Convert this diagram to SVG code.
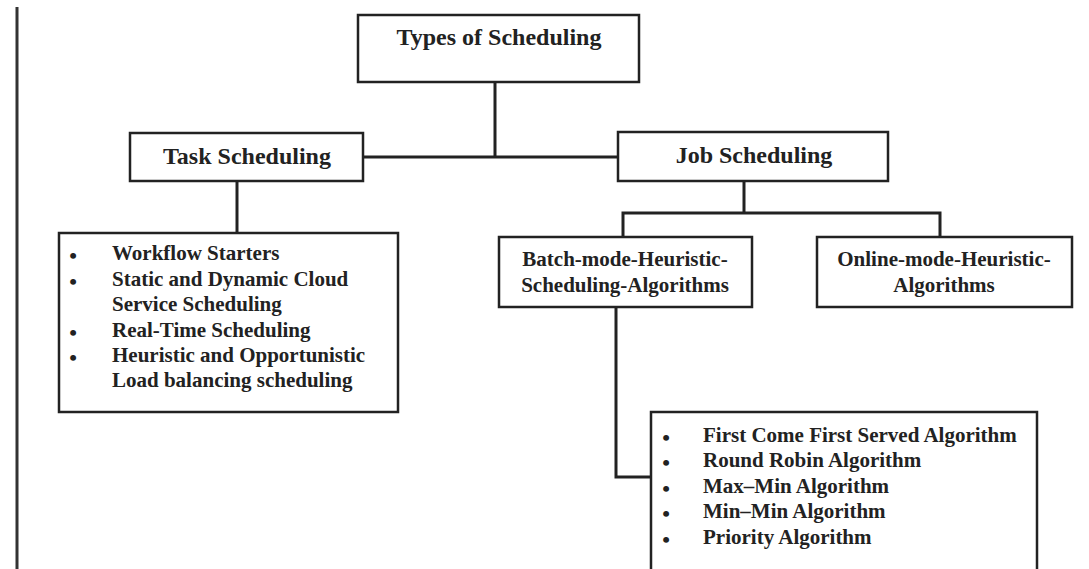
<svg xmlns="http://www.w3.org/2000/svg" width="1089" height="569" viewBox="0 0 1089 569">
<style>
.box{fill:#fff;stroke:#222;stroke-width:2.5}
.con{fill:none;stroke:#222;stroke-width:3}
.t{font-family:"Liberation Serif",serif;font-weight:bold;fill:#222}
.h{font-size:24px;text-anchor:middle}
.l{font-size:21px}
.b{font-size:22px;text-anchor:middle}
</style>
<rect width="1089" height="569" fill="#fff"/>
<line x1="17" y1="7" x2="17" y2="569" stroke="#333" stroke-width="3"/>
<g id="connectors">
<path class="con" d="M495 82V157M363 157H619"/>
<path class="con" d="M237 181V233"/>
<path class="con" d="M744 181V213M623 237V213H940V237"/>
<path class="con" d="M616 307V477H651"/>
</g>
<g id="types">
<rect class="box" x="358" y="15" width="281" height="67"/>
<text class="t h" x="499" y="45">Types of Scheduling</text>
</g>
<g id="task">
<rect class="box" x="130" y="133" width="233" height="48"/>
<text class="t h" x="247" y="164">Task Scheduling</text>
</g>
<g id="job">
<rect class="box" x="618" y="132" width="270" height="49"/>
<text class="t h" x="754" y="163">Job Scheduling</text>
</g>
<g id="tasklist">
<rect class="box" x="59" y="233" width="339" height="179"/>
<g class="t b">
<text x="73" y="263">•</text>
<text x="73" y="289">•</text>
<text x="73" y="340">•</text>
<text x="73" y="365">•</text>
</g>
<g class="t l">
<text x="112" y="260">Workflow Starters</text>
<text x="112" y="286">Static and Dynamic Cloud</text>
<text x="112" y="311">Service Scheduling</text>
<text x="112" y="337">Real-Time Scheduling</text>
<text x="112" y="362">Heuristic and Opportunistic</text>
<text x="112" y="387">Load balancing scheduling</text>
</g>
</g>
<g id="batch">
<rect class="box" x="499" y="237" width="253" height="70"/>
<text class="t l" text-anchor="middle" x="625" y="266">Batch-mode-Heuristic-</text>
<text class="t l" text-anchor="middle" x="625" y="292">Scheduling-Algorithms</text>
</g>
<g id="online">
<rect class="box" x="817" y="237" width="255" height="70"/>
<text class="t l" text-anchor="middle" x="944" y="266">Online-mode-Heuristic-</text>
<text class="t l" text-anchor="middle" x="944" y="292">Algorithms</text>
</g>
<g id="algolist">
<rect class="box" x="651" y="412" width="386" height="170"/>
<g class="t b">
<text x="666" y="445">•</text>
<text x="666" y="470">•</text>
<text x="666" y="496">•</text>
<text x="666" y="521">•</text>
<text x="666" y="547">•</text>
</g>
<g class="t l">
<text x="703" y="442">First Come First Served Algorithm</text>
<text x="703" y="467">Round Robin Algorithm</text>
<text x="703" y="493">Max–Min Algorithm</text>
<text x="703" y="518">Min–Min Algorithm</text>
<text x="703" y="544">Priority Algorithm</text>
</g>
</g>
</svg>
